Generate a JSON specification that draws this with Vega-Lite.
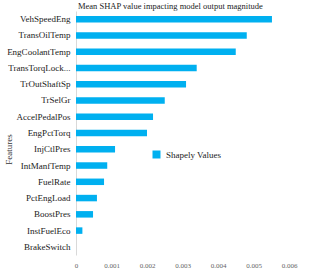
{
  "$schema": "https://vega.github.io/schema/vega-lite/v6.json",
  "autosize": "none",
  "width": 213,
  "height": 244,
  "padding": {"left": 76, "top": 11, "right": 25, "bottom": 20},
  "background": "white",
  "title": {
    "text": "Mean SHAP value impacting model output magnitude",
    "anchor": "start",
    "frame": "group",
    "font": "Liberation Serif",
    "fontSize": 8.5,
    "fontWeight": "normal",
    "color": "#222222",
    "offset": 1,
    "dx": 2
  },
  "data": {
    "values": [
      {"feature": "VehSpeedEng", "value": 0.00552, "series": "Shapely Values"},
      {"feature": "TransOilTemp", "value": 0.00481, "series": "Shapely Values"},
      {"feature": "EngCoolantTemp", "value": 0.0045, "series": "Shapely Values"},
      {"feature": "TransTorqLock...", "value": 0.0034, "series": "Shapely Values"},
      {"feature": "TrOutShaftSp", "value": 0.0031, "series": "Shapely Values"},
      {"feature": "TrSelGr", "value": 0.0025, "series": "Shapely Values"},
      {"feature": "AccelPedalPos", "value": 0.00217, "series": "Shapely Values"},
      {"feature": "EngPctTorq", "value": 0.002, "series": "Shapely Values"},
      {"feature": "InjCtlPres", "value": 0.0011, "series": "Shapely Values"},
      {"feature": "IntManfTemp", "value": 0.00088, "series": "Shapely Values"},
      {"feature": "FuelRate", "value": 0.00079, "series": "Shapely Values"},
      {"feature": "PctEngLoad", "value": 0.00059, "series": "Shapely Values"},
      {"feature": "BoostPres", "value": 0.00048, "series": "Shapely Values"},
      {"feature": "InstFuelEco", "value": 0.00018, "series": "Shapely Values"},
      {"feature": "BrakeSwitch", "value": 0.0, "series": "Shapely Values"}
    ]
  },
  "mark": {"type": "bar"},
  "encoding": {
    "y": {
      "field": "feature",
      "type": "nominal",
      "sort": null,
      "scale": {"paddingInner": 0.6, "paddingOuter": 0.3},
      "axis": {
        "title": "Features",
        "titleFont": "Liberation Serif",
        "titleFontSize": 9,
        "titleFontWeight": "normal",
        "titleColor": "#333333",
        "titleX": -68,
        "titleY": 138,
        "titleAngle": -90,
        "titleAlign": "center",
        "titleBaseline": "middle",
        "labelFont": "Liberation Serif",
        "labelFontSize": 9,
        "labelColor": "#222222",
        "labelPadding": 6,
        "labelLimit": 200,
        "ticks": false,
        "domainColor": "#d9d9d9",
        "domainWidth": 1
      }
    },
    "x": {
      "field": "value",
      "type": "quantitative",
      "scale": {"domain": [0, 0.006], "nice": false},
      "axis": {
        "title": null,
        "values": [0, 0.001, 0.002, 0.003, 0.004, 0.005, 0.006],
        "format": "~g",
        "labelFont": "Liberation Serif",
        "labelFontSize": 7,
        "labelColor": "#666666",
        "labelPadding": 6,
        "labelFlush": false,
        "labelOverlap": false,
        "ticks": false,
        "domain": false,
        "grid": false
      }
    },
    "color": {
      "field": "series",
      "type": "nominal",
      "scale": {"range": ["#00B0F0"]},
      "legend": {
        "title": null,
        "orient": "none",
        "legendX": 76,
        "legendY": 139,
        "padding": 0,
        "symbolType": "square",
        "symbolSize": 64,
        "symbolStrokeWidth": 0,
        "labelFont": "Liberation Serif",
        "labelFontSize": 9,
        "labelColor": "#222222",
        "labelOffset": 5
      }
    }
  },
  "config": {
    "view": {"stroke": null},
    "axis": {"grid": false}
  }
}
